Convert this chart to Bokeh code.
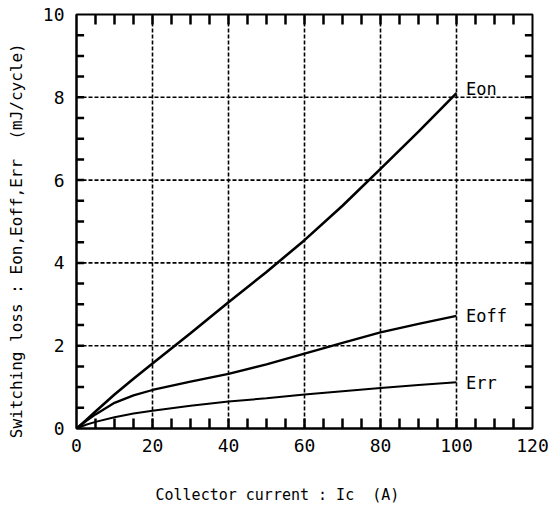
from bokeh.plotting import figure
from bokeh.models import LinearAxis, SingleIntervalTicker, Range1d, Label
from bokeh.embed import file_html
from bokeh.resources import INLINE

# Collector current (A) and switching energy per cycle (mJ)
ic = [0, 2.5, 5, 10, 15, 20, 30, 40, 50, 60, 70, 80, 90, 100]
eon = [0, 0.2, 0.41, 0.82, 1.2, 1.57, 2.3, 3.05, 3.78, 4.55, 5.38, 6.27, 7.17, 8.1]
eoff = [0, 0.18, 0.34, 0.62, 0.8, 0.93, 1.13, 1.32, 1.55, 1.81, 2.07, 2.32, 2.53, 2.72]
err = [0, 0.09, 0.16, 0.27, 0.36, 0.43, 0.55, 0.65, 0.73, 0.82, 0.9, 0.98, 1.05, 1.12]

curve_names = ["Eon", "Eoff", "Err"]
curve_widths = [2.6, 2.3, 2.0]

X_MAX, Y_MAX = 120, 10
X_STEP, Y_STEP = 20, 2          # labelled tick spacing
X_MINOR, Y_MINOR = 5, 0.5       # small tick spacing

FONT = "DejaVu Sans Mono"
NBSP = "\u00a0"

p = figure(width=559, height=518, output_backend="svg", toolbar_location=None,
           x_range=Range1d(0, X_MAX), y_range=Range1d(0, Y_MAX),
           x_axis_type=None, y_axis_type=None,
           min_border_left=76, min_border_right=27,
           min_border_top=14, min_border_bottom=90)
p.background_fill_color = "white"
p.border_fill_color = "white"
p.outline_line_color = "black"
p.outline_line_width = 2


def style_axis(ax):
    ax.axis_line_color = "black"
    ax.axis_line_width = 2
    ax.major_tick_in = 0
    ax.major_tick_out = 0
    ax.minor_tick_in = 0
    ax.minor_tick_out = 0
    ax.major_label_text_font = FONT
    ax.major_label_text_font_size = "18px"
    ax.major_label_text_color = "black"
    ax.axis_label_text_font = FONT
    ax.axis_label_text_font_style = "normal"
    ax.axis_label_text_color = "black"
    return ax


xb = style_axis(LinearAxis(ticker=SingleIntervalTicker(interval=X_STEP)))
xb.axis_label = "Collector current : Ic" + NBSP * 2 + "(A)" + NBSP * 6
xb.axis_label_text_font_size = "15px"
xb.major_label_standoff = 10
xb.axis_label_standoff = 31
p.add_layout(xb, "below")

yl = style_axis(LinearAxis(ticker=SingleIntervalTicker(interval=Y_STEP)))
yl.axis_label = "Switching loss : Eon,Eoff,Err" + NBSP * 2 + "(mJ/cycle)" + NBSP * 4
yl.axis_label_text_font_size = "16px"
yl.major_label_standoff = 12
yl.axis_label_standoff = 14
p.add_layout(yl, "left")

# inward tick marks on all four frame edges
xt = [X_MINOR * i for i in range(1, int(X_MAX / X_MINOR))]
yt = [Y_MINOR * i for i in range(1, int(Y_MAX / Y_MINOR))]
x_tick_len = 0.24   # in y units
y_tick_len = 2.0    # in x units
tick_kw = dict(line_color="black", line_width=2.5)
p.segment(x0=xt, y0=[0] * len(xt), x1=xt, y1=[x_tick_len] * len(xt), **tick_kw)
p.segment(x0=xt, y0=[Y_MAX] * len(xt), x1=xt, y1=[Y_MAX - x_tick_len] * len(xt), **tick_kw)
p.segment(x0=[0] * len(yt), y0=yt, x1=[y_tick_len] * len(yt), y1=yt, **tick_kw)
p.segment(x0=[X_MAX] * len(yt), y0=yt, x1=[X_MAX - y_tick_len] * len(yt), y1=yt, **tick_kw)

# dashed grid at the labelled ticks
for val in range(X_STEP, 101, X_STEP):
    p.line([val, val], [0, Y_MAX], line_color="black", line_width=1.6, line_dash="4 2")
for val in range(Y_STEP, Y_MAX, Y_STEP):
    p.line([0, X_MAX], [val, val], line_color="black", line_width=1.6, line_dash="4 2")

for ys, w in zip([eon, eoff, err], curve_widths):
    p.line(ic, ys, line_color="black", line_width=w)

label_y = [8.2, 2.72, 1.1]
for name, y in zip(curve_names, label_y):
    p.add_layout(Label(x=102.5, y=y, text=name, text_font=FONT, text_font_size="17px",
                       text_color="black", text_baseline="middle", text_align="left",
                       background_fill_color="white" if name != "Eon" else None))

open("out.html", "w").write(file_html(p, INLINE))
